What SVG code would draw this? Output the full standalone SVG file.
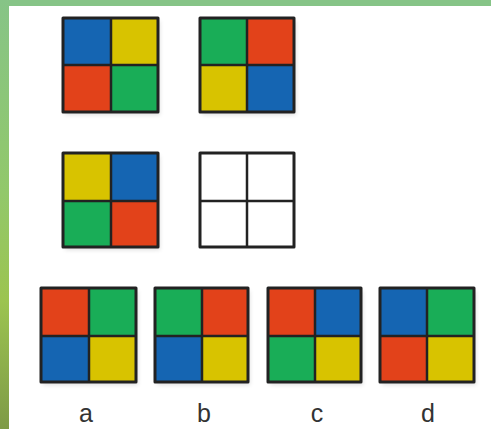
<svg xmlns="http://www.w3.org/2000/svg" width="491" height="429" viewBox="0 0 491 429">
<defs>
<linearGradient id="lg" x1="0" y1="0" x2="0" y2="1">
<stop offset="0" stop-color="#86c487"/>
<stop offset="0.45" stop-color="#92c86a"/>
<stop offset="0.7" stop-color="#9cc450"/>
<stop offset="1" stop-color="#7e9a46"/>
</linearGradient>
<filter id="sh" x="-10%" y="-10%" width="130%" height="130%"><feGaussianBlur stdDeviation="2"/></filter>
</defs>
<style>
.b{fill:#1565b2}.y{fill:#d8c300}.r{fill:#e2421a}.g{fill:#19ad57}
.frame{fill:none;stroke:#222;stroke-width:3;stroke-linejoin:round}
.grid{stroke:#222;stroke-width:2.5}
.shadow{fill:#000;opacity:0.12;filter:url(#sh)}
.lbl{font-family:"Liberation Sans",Arial,sans-serif;font-size:25px;fill:#333;text-anchor:middle}
</style>
<rect width="491" height="429" fill="#fff"/>
<rect x="0" y="0" width="491" height="6" fill="#86c487"/>
<rect x="0" y="0" width="9" height="429" fill="url(#lg)"/>

<g id="sq1" transform="translate(63,18)">
<rect class="shadow" x="2" y="3" width="95" height="94"/>
<rect class="b" x="0" y="0" width="48" height="47"/><rect class="y" x="48" y="0" width="47" height="47"/>
<rect class="r" x="0" y="47" width="48" height="47"/><rect class="g" x="48" y="47" width="47" height="47"/>
<line class="grid" x1="48" y1="0" x2="48" y2="94"/><line class="grid" x1="0" y1="47" x2="95" y2="47"/>
<rect class="frame" x="0" y="0" width="95" height="94"/>
</g>
<g id="sq2" transform="translate(200,18)">
<rect class="shadow" x="2" y="3" width="94" height="94"/>
<rect class="g" x="0" y="0" width="47" height="47"/><rect class="r" x="47" y="0" width="47" height="47"/>
<rect class="y" x="0" y="47" width="47" height="47"/><rect class="b" x="47" y="47" width="47" height="47"/>
<line class="grid" x1="47" y1="0" x2="47" y2="94"/><line class="grid" x1="0" y1="47" x2="94" y2="47"/>
<rect class="frame" x="0" y="0" width="94" height="94"/>
</g>
<g id="sq3" transform="translate(63,153)">
<rect class="shadow" x="2" y="3" width="95" height="94"/>
<rect class="y" x="0" y="0" width="48" height="48"/><rect class="b" x="48" y="0" width="47" height="48"/>
<rect class="g" x="0" y="48" width="48" height="46"/><rect class="r" x="48" y="48" width="47" height="46"/>
<line class="grid" x1="48" y1="0" x2="48" y2="94"/><line class="grid" x1="0" y1="48" x2="95" y2="48"/>
<rect class="frame" x="0" y="0" width="95" height="94"/>
</g>
<g id="sq4" transform="translate(200,153)">
<rect fill="#fff" x="0" y="0" width="94" height="94"/>
<line class="grid" x1="47" y1="0" x2="47" y2="94" stroke-width="2"/><line class="grid" x1="0" y1="48" x2="94" y2="48" stroke-width="2"/>
<rect class="frame" x="0" y="0" width="94" height="94"/>
</g>

<g id="optA" transform="translate(41,288)">
<rect class="shadow" x="2" y="3" width="95" height="94"/>
<rect class="r" x="0" y="0" width="48" height="48"/><rect class="g" x="48" y="0" width="47" height="48"/>
<rect class="b" x="0" y="48" width="48" height="46"/><rect class="y" x="48" y="48" width="47" height="46"/>
<line class="grid" x1="48" y1="0" x2="48" y2="94"/><line class="grid" x1="0" y1="48" x2="95" y2="48"/>
<rect class="frame" x="0" y="0" width="95" height="94"/>
</g>
<g id="optB" transform="translate(155,288)">
<rect class="shadow" x="2" y="3" width="93" height="94"/>
<rect class="g" x="0" y="0" width="47" height="48"/><rect class="r" x="47" y="0" width="46" height="48"/>
<rect class="b" x="0" y="48" width="47" height="46"/><rect class="y" x="47" y="48" width="46" height="46"/>
<line class="grid" x1="47" y1="0" x2="47" y2="94"/><line class="grid" x1="0" y1="48" x2="93" y2="48"/>
<rect class="frame" x="0" y="0" width="93" height="94"/>
</g>
<g id="optC" transform="translate(268,288)">
<rect class="shadow" x="2" y="3" width="93" height="94"/>
<rect class="r" x="0" y="0" width="47" height="48"/><rect class="b" x="47" y="0" width="46" height="48"/>
<rect class="g" x="0" y="48" width="47" height="46"/><rect class="y" x="47" y="48" width="46" height="46"/>
<line class="grid" x1="47" y1="0" x2="47" y2="94"/><line class="grid" x1="0" y1="48" x2="93" y2="48"/>
<rect class="frame" x="0" y="0" width="93" height="94"/>
</g>
<g id="optD" transform="translate(380,288)">
<rect class="shadow" x="2" y="3" width="94" height="94"/>
<rect class="b" x="0" y="0" width="47" height="48"/><rect class="g" x="47" y="0" width="47" height="48"/>
<rect class="r" x="0" y="48" width="47" height="46"/><rect class="y" x="47" y="48" width="47" height="46"/>
<line class="grid" x1="47" y1="0" x2="47" y2="94"/><line class="grid" x1="0" y1="48" x2="94" y2="48"/>
<rect class="frame" x="0" y="0" width="94" height="94"/>
</g>

<g id="labels">
<text class="lbl" x="86" y="422">a</text>
<text class="lbl" x="204" y="422">b</text>
<text class="lbl" x="317" y="422">c</text>
<text class="lbl" x="428" y="422">d</text>
</g>
</svg>
